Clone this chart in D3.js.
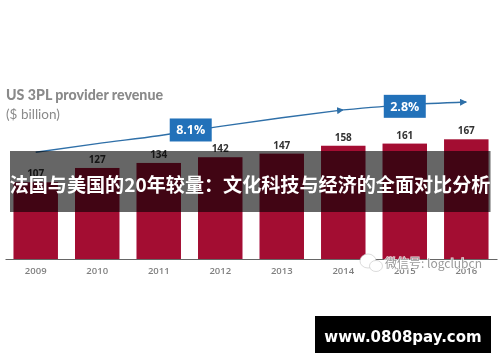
<!DOCTYPE html>
<html>
<head>
<meta charset="utf-8">
<script src="https://cdnjs.cloudflare.com/ajax/libs/d3/7.8.5/d3.min.js"></script>
<style>
html, body { margin: 0; padding: 0; background: #fff; }
svg { display: block; }
</style>
</head>
<body>
<div class="container"></div>
<script>
const WIDTH = 500;
const HEIGHT = 362;
const BASE_Y = 259;

const years = ["2009", "2010", "2011", "2012", "2013", "2014", "2015", "2016"];
const revenue = [107, 127, 134, 142, 147, 158, 161, 167];

// growth arrow, in the same units as the bars
const trendYears = [2009, 2010, 2011, 2012, 2013, 2014, 2015, 2016];
const trendValues = [149, 161, 172, 185, 197, 208, 215, 219];
const rateLabels = ["8.1%", "2.8%"];
const rateYears = [2011.52, 2015];
const rateValues = [180, 213];

const headline = "法国与美国的20年较量:文化科技与经济的全面对比分析".replace(":", "：");
const siteLabel = "www.0808pay.com";
const wechatLabel = "微信号: logclubcn";

var svg = d3.select(".container").append("svg")
    .attr("width", WIDTH)
    .attr("height", HEIGHT);

var defs = svg.append("defs");
defs.append("filter").attr("id", "soft")
    .append("feGaussianBlur").attr("stdDeviation", 0.45);
defs.append("marker")
    .attr("id", "head")
    .attr("viewBox", "0 0 10 10")
    .attr("refX", 9).attr("refY", 5)
    .attr("markerUnits", "userSpaceOnUse")
    .attr("markerWidth", 7).attr("markerHeight", 7)
    .attr("orient", "auto")
    .append("path")
    .attr("d", "M0,0L10,5L0,10Z")
    .attr("fill", "#2f6fa8");

var x = d3.scaleBand()
    .domain(years)
    .range([5, 497])
    .paddingInner(0.277)
    .paddingOuter(0.138);

var y = d3.scaleLinear()
    .domain([0, 167])
    .range([BASE_Y, 139.3]);

var yearX = d3.scaleLinear()
    .domain([2009, 2016])
    .range([x("2009") + x.bandwidth() / 2, x("2016") + x.bandwidth() / 2]);

var chart = svg.append("g").attr("filter", "url(#soft)");

chart.append("text")
    .attr("x", 6).attr("y", 100)
    .attr("font-family", "Lato")
    .attr("font-weight", 900)
    .attr("font-size", 14.2)
    .attr("fill", "#8a8a8a")
    .text("US 3PL provider revenue");

chart.append("text")
    .attr("x", 6).attr("y", 118.5)
    .attr("font-family", "Lato")
    .attr("font-size", 13.5)
    .attr("fill", "#8a8a8a")
    .text("($ billion)");

chart.selectAll(".bar")
    .data(revenue)
    .enter().append("rect")
    .attr("class", "bar")
    .attr("x", function(d, i) { return x(years[i]); })
    .attr("y", function(d) { return y(d); })
    .attr("width", x.bandwidth())
    .attr("height", function(d) { return BASE_Y - y(d); })
    .attr("fill", "#a30a33");

chart.selectAll(".value")
    .data(revenue)
    .enter().append("text")
    .attr("class", "value")
    .attr("x", function(d, i) { return x(years[i]) + x.bandwidth() / 2; })
    .attr("y", function(d) { return y(d) - 5; })
    .attr("text-anchor", "middle")
    .attr("font-family", "Open Sans")
    .attr("font-weight", 700)
    .attr("font-size", 10)
    .attr("fill", "#333")
    .text(function(d) { return d; });

var xAxis = d3.axisBottom(x).tickSize(0).tickPadding(8);
var axisG = chart.append("g")
    .attr("transform", "translate(0," + BASE_Y + ")")
    .call(xAxis);
axisG.select(".domain").attr("stroke", "#666").attr("stroke-width", 1);
axisG.selectAll("text")
    .attr("font-family", "Open Sans")
    .attr("font-size", 9.5)
    .attr("font-weight", 600)
    .attr("fill", "#808080");

var trendLine = d3.line()
    .x(function(d, i) { return yearX(trendYears[i]); })
    .y(function(d) { return y(d); })
    .curve(d3.curveMonotoneX);

// the curve stops at 2014 for the first arrow, then runs on to 2016
chart.append("path")
    .attr("d", trendLine(trendValues.slice(0, 6)))
    .attr("fill", "none")
    .attr("stroke", "#2f6fa8")
    .attr("stroke-width", 1.4)
    .attr("marker-end", "url(#head)");

var trendLine2 = d3.line()
    .x(function(d, i) { return yearX(trendYears[i + 5]); })
    .y(function(d) { return y(d); })
    .curve(d3.curveMonotoneX);

chart.append("path")
    .attr("d", trendLine2(trendValues.slice(5)))
    .attr("fill", "none")
    .attr("stroke", "#2f6fa8")
    .attr("stroke-width", 1.4)
    .attr("marker-end", "url(#head)");

var rates = chart.selectAll(".rate")
    .data(rateLabels)
    .enter().append("g")
    .attr("class", "rate")
    .attr("transform", function(d, i) {
        return "translate(" + yearX(rateYears[i]) + "," + y(rateValues[i]) + ")";
    });

rates.append("rect")
    .attr("x", -21).attr("y", -11.5)
    .attr("width", 42).attr("height", 23)
    .attr("fill", "#2371b9");

rates.append("text")
    .attr("text-anchor", "middle")
    .attr("dy", "0.36em")
    .attr("font-family", "Open Sans")
    .attr("font-weight", 700)
    .attr("font-size", 12.5)
    .attr("fill", "#fff")
    .text(function(d) { return d; });

// dark caption band across the chart
svg.append("rect")
    .attr("x", 10).attr("y", 151)
    .attr("width", 480.5).attr("height", 61)
    .attr("fill", "#000")
    .attr("fill-opacity", 0.6);

svg.append("text")
    .attr("x", 250).attr("y", 192)
    .attr("text-anchor", "middle")
    .attr("font-family", "Noto Sans CJK SC")
    .attr("font-weight", 700)
    .attr("font-size", 19.1)
    .attr("fill", "#fff")
    .text(headline);

// wechat watermark
var mark = svg.append("g").attr("fill", "#fff").attr("stroke", "#ccc").attr("stroke-width", 0.7);
mark.append("ellipse").attr("cx", 368).attr("cy", 261).attr("rx", 8).attr("ry", 7);
mark.append("ellipse").attr("cx", 376).attr("cy", 266).attr("rx", 6.5).attr("ry", 5.5);

svg.append("text")
    .attr("x", 385).attr("y", 268)
    .attr("font-family", "Noto Sans CJK SC")
    .attr("font-size", 12)
    .attr("fill", "#9a9a9a")
    .attr("stroke", "#fff")
    .attr("stroke-opacity", 0.8)
    .attr("stroke-width", 1.6)
    .attr("paint-order", "stroke")
    .text(wechatLabel);

// site label box
svg.append("rect")
    .attr("x", 315).attr("y", 316)
    .attr("width", 176).attr("height", 37)
    .attr("fill", "#000");

svg.append("text")
    .attr("x", 403).attr("y", 341.5)
    .attr("text-anchor", "middle")
    .attr("font-family", "DejaVu Sans")
    .attr("font-weight", 700)
    .attr("font-size", 15)
    .attr("fill", "#fff")
    .text(siteLabel);
</script>
</body>
</html>
